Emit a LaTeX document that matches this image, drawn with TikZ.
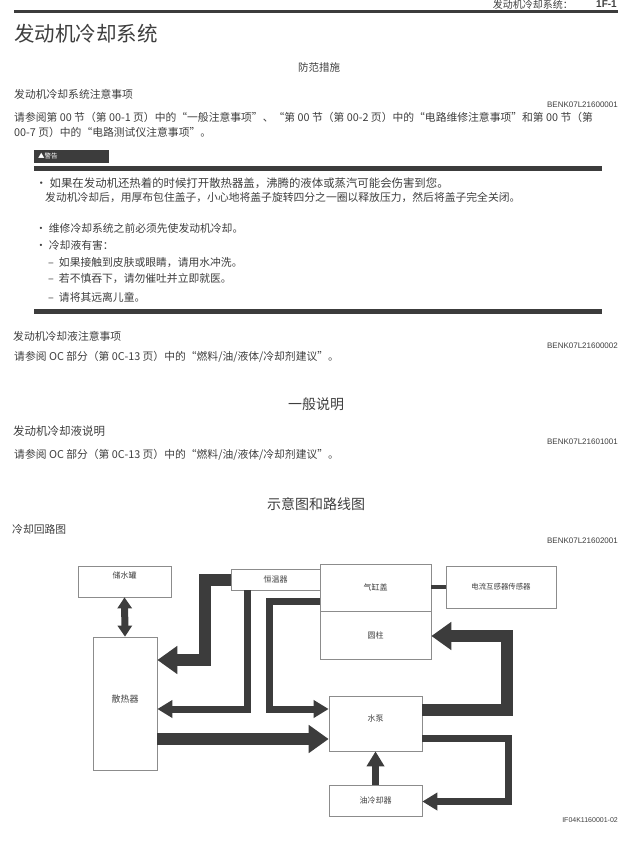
\documentclass[tikz,border=0pt]{standalone}
\usepackage{fontspec}
\setmainfont{Noto Sans CJK SC}
\newfontfamily\codefont{Liberation Sans}
\usetikzlibrary{arrows.meta}
\definecolor{inkgray}{HTML}{3C3C3C}
\definecolor{textgray}{HTML}{3E3E3E}
\definecolor{boxgray}{HTML}{8C8C8C}
\tikzset{
  plain/.style={anchor=west,inner sep=0pt,text=textgray,font=\fontsize{10.8}{12}\selectfont},
  heading/.style={inner sep=0pt,text=textgray,font=\fontsize{14}{15}\selectfont},
  code/.style={anchor=east,inner sep=0pt,text=textgray,font=\codefont\fontsize{8}{9}\selectfont},
  part/.style={draw=boxgray,line width=0.7pt,inner sep=0pt,text=textgray,font=\fontsize{8}{10}\selectfont},
  rulebar/.style={line width=5pt,draw=inkgray},
  thin flow/.style={draw=inkgray,line width=7pt,-{Triangle[length=15pt,width=17pt]}},
  thick flow/.style={draw=inkgray,line width=12pt,-{Triangle[length=20pt,width=27pt]}},
}
\begin{document}
\begin{tikzpicture}[x=1pt,y=-1pt]
    \useasboundingbox (0,0) rectangle (637,861);
    \coordinate (RuleL) at (14,11.5);
    \coordinate (RuleR) at (618,11.5);
    \draw[line width=2.5pt,draw=inkgray] (RuleL) -- (RuleR);
    % page header and title
    \node[plain,anchor=east,font=\fontsize{10}{12}\selectfont] (hdr) at (573,4.5) {发动机冷却系统：};
    \node[plain,anchor=east,font=\codefont\bfseries\fontsize{10}{12}\selectfont] (pg) at (617,4.5) {1F-1};
    \node[plain,font=\fontsize{20.5}{24}\selectfont] (title) at (14,34) {发动机冷却系统};
    \node[heading,font=\fontsize{10.5}{12}\selectfont] (h1) at (319,68) {防范措施};
    \node[plain] (s1) at (14,94) {发动机冷却系统注意事项};
    \node[code] (c1) at (618,105) {BENK07L21600001};
    \node[plain] (p1) at (14,117) {请参阅第 00 节（第 00-1 页）中的“一般注意事项”、“第 00 节（第 00-2 页）中的“电路维修注意事项”和第 00 节（第};
    \node[plain] (p2) at (14,132) {00-7 页）中的“电路测试仪注意事项”。};
    % warning block
    \fill[inkgray] (34,150) rectangle (109,163);
    \node[plain,text=white,font=\fontsize{6.5}{8}\selectfont] (warn) at (38,156.5) {▲警告};
    \coordinate (BarTL) at (34,168.5);
    \coordinate (BarTR) at (602,168.5);
    \coordinate (BarBL) at (34,311.5);
    \coordinate (BarBR) at (602,311.5);
    \draw[rulebar] (BarTL) -- (BarTR);
    \draw[rulebar] (BarBL) -- (BarBR);
    \node[plain,font=\fontsize{11.4}{13}\selectfont] (w1) at (35.5,183) {· 如果在发动机还热着的时候打开散热器盖，沸腾的液体或蒸汽可能会伤害到您。};
    \node[plain] (w2) at (45,197) {发动机冷却后，用厚布包住盖子，小心地将盖子旋转四分之一圈以释放压力，然后将盖子完全关闭。};
    \node[plain] (w3) at (35.5,228) {· 维修冷却系统之前必须先使发动机冷却。};
    \node[plain] (w4) at (35.5,245) {· 冷却液有害：};
    \node[plain] (w5) at (48,263) {–\hspace{5pt}如果接触到皮肤或眼睛，请用水冲洗。};
    \node[plain] (w6) at (48,279) {–\hspace{5pt}若不慎吞下，请勿催吐并立即就医。};
    \node[plain] (w7) at (48,297) {–\hspace{5pt}请将其远离儿童。};
    % coolant notes
    \node[plain] (s2) at (13,336) {发动机冷却液注意事项};
    \node[code] (c2) at (618,346) {BENK07L21600002};
    \node[plain] (p3) at (14,357) {请参阅 OC 部分（第 0C-13 页）中的“燃料/油/液体/冷却剂建议”。};
    \node[heading] (h2) at (316,404) {一般说明};
    \node[plain,font=\fontsize{11.5}{13}\selectfont] (s3) at (13,431) {发动机冷却液说明};
    \node[code] (c3) at (618,442) {BENK07L21601001};
    \node[plain] (p4) at (14,455) {请参阅 OC 部分（第 0C-13 页）中的“燃料/油/液体/冷却剂建议”。};
    \node[heading] (h3) at (316,504) {示意图和路线图};
    \node[plain] (s4) at (12,529) {冷却回路图};
    \node[code] (c4) at (618,541) {BENK07L21602001};
    % parts
    \node[part,minimum width=93pt,minimum height=31pt,text depth=12pt] (tank) at (124.5,581.5) {储水罐};
    \node[part,minimum width=64pt,minimum height=133pt,text depth=10pt,font=\fontsize{9}{10}\selectfont] (radiator) at (125,703.5) {散热器};
    \node[part,minimum width=89pt,minimum height=21pt] (thermostat) at (275.5,579.5) {恒温器};
    \node[part,minimum width=111pt,minimum height=47pt] (cylhead) at (375.5,587.5) {气缸盖};
    \node[part,minimum width=111pt,minimum height=48pt] (cylinder) at (375.5,635) {圆柱};
    \node[part,minimum width=110pt,minimum height=42pt,font=\fontsize{7.4}{9}\selectfont] (sensor) at (501,587) {电流互感器传感器};
    \node[part,minimum width=93pt,minimum height=55pt,text depth=11pt] (pump) at (375.5,723.5) {水泵};
    \node[part,minimum width=93pt,minimum height=31pt] (oilcooler) at (375.5,800.5) {油冷却器};
    % flows
    \coordinate (Bend1) at (205,660);
    \coordinate (Bend2) at (247.5,709);
    \coordinate (Bend3) at (269.5,709);
    \coordinate (Bend4) at (507,636);
    \coordinate (Bend5) at (508.5,801.5);
    \coordinate (Lead3) at (320,601.5);
    \coordinate (Lead5) at (422,710);
    \coordinate (Lead6) at (422,738);
    \coordinate (Lead7) at (157,739);
    \coordinate (Stem8) at (375.5,785);
    \draw[thick flow] (thermostat.west) -| (Bend1) -- (radiator.east |- Bend1);
    \draw[thin flow] (thermostat.south -| Bend2) -- (Bend2) -- (radiator.east |- Bend2);
    \draw[thin flow] (Lead3) -| (Bend3) -- (pump.west |- Bend3);
    \draw[thick flow] (Lead7) -- (pump.west |- Lead7);
    \draw[thick flow] (Lead5) -| (Bend4) -- (cylinder.east |- Bend4);
    \draw[thin flow] (Lead6) -| (Bend5) -- (oilcooler.east |- Bend5);
    \draw[thin flow] (Stem8) -- (pump.south -| Stem8);
    \draw[draw=inkgray,line width=7pt,{Triangle[length=11pt,width=14pt]}-{Triangle[length=11pt,width=14pt]}] (tank.south) -- (radiator.north);
    \draw[draw=inkgray,line width=4pt] (cylhead.east |- sensor.west) -- (sensor.west);
    \node[code,font=\codefont\fontsize{7}{8}\selectfont] (c5) at (618,820) {IF04K1160001-02};
  \end{tikzpicture}
\end{document}
